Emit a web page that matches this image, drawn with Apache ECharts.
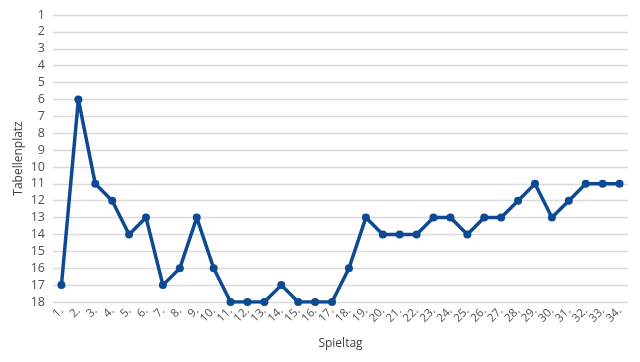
<!DOCTYPE html>
<html><head><meta charset="utf-8">
<script src="https://cdn.jsdelivr.net/npm/echarts@6/dist/echarts.min.js"></script>
<style>html,body{margin:0;padding:0;background:#fff}#c{width:640px;height:362px}</style>
</head><body><div id="c"></div>
<script>
var spieltage = [];
for (var i = 1; i <= 34; i++) spieltage.push(i + '.');
var platz = [17,6,11,12,14,13,17,16,13,16,18,18,18,17,18,18,18,16,13,14,14,14,13,13,14,13,13,12,11,13,12,11,11,11];
var chart = echarts.init(document.getElementById('c'), null, {renderer:'canvas'});
chart.setOption({
  animation:false,
  grid:{left:53,right:12,top:15,bottom:60,outerBoundsMode:'none',containLabel:false},
  xAxis:{type:'category',data:spieltage,boundaryGap:true,
    name:'Spieltag',nameLocation:'middle',nameGap:36,
    nameTextStyle:{fontFamily:'Open Sans',fontSize:12,color:'#404040'},
    axisLine:{show:false},axisTick:{show:false},
    axisLabel:{rotate:45,interval:0,fontFamily:'Open Sans',fontSize:11.5,color:'#505050',margin:7}},
  yAxis:{type:'value',inverse:true,min:1,max:18,interval:1,
    name:'Tabellenplatz',nameLocation:'middle',nameGap:28,nameMoveOverlap:false,
    nameTextStyle:{fontFamily:'Open Sans',fontSize:12,color:'#404040'},
    axisLine:{show:false},axisTick:{show:false},
    axisLabel:{fontFamily:'Open Sans',fontSize:12.5,color:'#505050',margin:8},
    splitLine:{lineStyle:{color:'#dadada',width:1.3}}},
  series:[{type:'line',data:platz,symbol:'circle',symbolSize:8,
    lineStyle:{color:'#0e4a91',width:3.5},itemStyle:{color:'#0e4a91'}}]
});
</script></body></html>
